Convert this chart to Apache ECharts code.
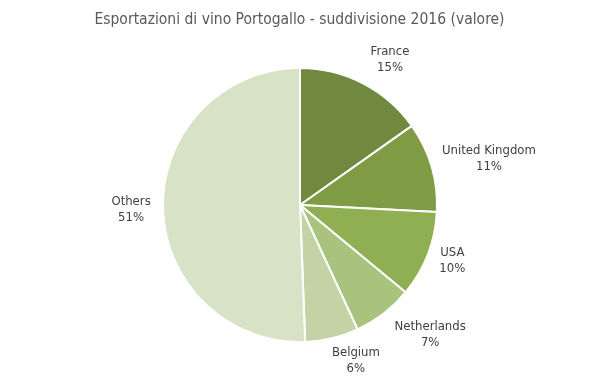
<!DOCTYPE html>
<html><head><meta charset="utf-8">
<script src="https://cdn.jsdelivr.net/npm/echarts@6/dist/echarts.min.js"></script>
<style>html,body{margin:0;padding:0;background:#fff}#c{width:599px;height:378px}</style>
</head><body><div id="c"></div>
<script>
var titleText = 'Esportazioni di vino Portogallo - suddivisione 2016 (valore)';
var categories = ['France', 'United Kingdom', 'USA', 'Netherlands', 'Belgium', 'Others'];
var values = [15.2, 10.6, 10.2, 7.1, 6.3, 50.6];
var colors = ['#71893F', '#7F9C45', '#8FAF52', '#A9C37F', '#C3D3A6', '#D8E2C6'];

// label placement (layout only): angular shift (deg) from slice middle and distance from centre
var labelAngleShift = [4.4, 2.5, -1.3, -7.4, -6.3, -0.6];
var labelDist = [171, 194.5, 162, 184, 165, 169];

var FONT = '"Liberation Sans Narrow","DejaVu Sans Condensed","Roboto Condensed",sans-serif';
var CX = 300, CY = 205, R = 137;
var total = values.reduce(function (a, b) { return a + b; }, 0);
var mids = [], acc = 0;
values.forEach(function (v) { mids.push((acc + v / 2) / total * 360); acc += v; });

var chart = echarts.init(document.getElementById('c'));
chart.setOption({
  animation: false,
  title: { text: titleText, left: 'center', top: 7,
    textStyle: { fontFamily: FONT, fontSize: 15.5, fontWeight: 'normal', color: '#595959' } },
  series: [{
    type: 'pie',
    center: [CX, CY],
    radius: [0, R],
    startAngle: 90,
    clockwise: true,
    data: categories.map(function (c, i) { return { name: c, value: values[i], itemStyle: { color: colors[i] } }; }),
    itemStyle: { borderColor: '#fff', borderWidth: 2 },
    label: {
      show: true, position: 'outside',
      formatter: function (p) { return p.name + '\n' + Math.round(p.value / total * 100) + '%'; },
      fontFamily: FONT, fontSize: 13, color: '#404040', lineHeight: 16, align: 'center'
    },
    labelLine: { show: false },
    labelLayout: function (p) {
      var i = p.dataIndex;
      var a = (mids[i] + labelAngleShift[i]) * Math.PI / 180;
      return {
        x: CX + labelDist[i] * Math.sin(a),
        y: CY - labelDist[i] * Math.cos(a),
        align: 'center', verticalAlign: 'middle'
      };
    }
  }]
});
</script></body></html>
